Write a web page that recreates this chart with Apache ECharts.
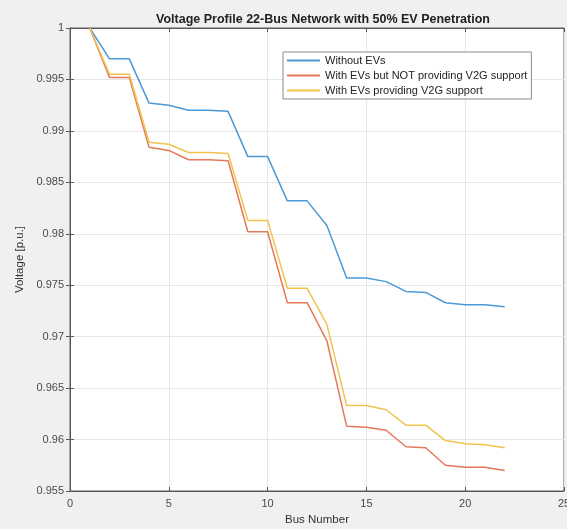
<!DOCTYPE html>
<html>
<head>
<meta charset="utf-8">
<script src="https://cdn.jsdelivr.net/npm/echarts@6/dist/echarts.min.js"></script>
<style>
html,body{margin:0;padding:0;background:#f0f0f0;}
#c{width:567px;height:529px;}
</style>
</head>
<body>
<div id="c"></div>
<script>
const buses = [1,2,3,4,5,6,7,8,9,10,11,12,13,14,15,16,17,18,19,20,21,22];
const withoutEV = [1.0,0.997,0.997,0.9927,0.9925,0.9920,0.9920,0.9919,0.9875,0.9875,0.9832,0.9832,0.9808,0.9757,0.9757,0.97535,0.9744,0.9743,0.9733,0.9731,0.9731,0.9729];
const evNoV2G = [1.0,0.9952,0.9952,0.9884,0.9881,0.9872,0.9872,0.9871,0.9802,0.9802,0.9733,0.9733,0.9696,0.9613,0.9612,0.9609,0.9593,0.9592,0.9575,0.9573,0.9573,0.9570];
const evV2G = [1.0,0.9955,0.9955,0.9889,0.9887,0.9879,0.9879,0.9878,0.9813,0.9813,0.9747,0.9747,0.9712,0.9633,0.9633,0.9629,0.9614,0.9614,0.9599,0.9596,0.9595,0.9592];
const seriesNames = ['Without EVs','With EVs but NOT providing V2G support','With EVs providing V2G support'];
const colors = ['#4a9ad8','#e4795a','#f2c24e'];

const pair = arr => buses.map((b,i)=>[b,arr[i]]);
const chart = echarts.init(document.getElementById('c'));
const axisCol = '#5a5a5a';
const font = 'Liberation Sans, Arial, sans-serif';
chart.setOption({
  backgroundColor:'#f0f0f0',
  animation:false,
  title:{text:'Voltage Profile 22-Bus Network with 50% EV Penetration',left:318,textAlign:'center',top:8,
    textStyle:{fontSize:12.5,fontWeight:'bold',color:'#222',fontFamily:font}},
  legend:{orient:'vertical',left:283,top:52,icon:'rect',itemWidth:33,itemHeight:2,itemGap:4,
    padding:[3,4],backgroundColor:'#ffffff',borderColor:'#8a8a8a',borderWidth:1,
    textStyle:{fontSize:11,color:'#222',fontFamily:font},data:seriesNames},
  grid:{left:70,right:3,top:28,bottom:38,outerBoundsMode:'none',show:true,backgroundColor:'#ffffff',borderColor:axisCol,borderWidth:1},
  xAxis:[{type:'value',min:0,max:25,interval:5,name:'Bus Number',nameLocation:'middle',nameGap:23,
    nameTextStyle:{fontSize:11.5,color:'#333',fontFamily:font},
    axisLine:{lineStyle:{color:axisCol}},axisTick:{inside:true,length:4,lineStyle:{color:axisCol}},
    axisLabel:{fontSize:11,color:'#4a4a4a',margin:7,fontFamily:font},
    splitLine:{show:true,lineStyle:{color:'#e6e6e6'}}},
    {type:'value',min:0,max:25,interval:5,position:'top',axisLine:{show:true,lineStyle:{color:axisCol}},
    axisTick:{inside:true,length:4,lineStyle:{color:axisCol}},axisLabel:{show:false},splitLine:{show:false}}],
  yAxis:[{type:'value',min:0.955,max:1,interval:0.005,name:'Voltage [p.u.]',nameLocation:'middle',nameGap:38,
    nameTextStyle:{fontSize:11.5,color:'#333',fontFamily:font},
    axisLine:{show:true,lineStyle:{color:axisCol}},axisTick:{show:true,inside:true,length:4,lineStyle:{color:axisCol}},
    axisLabel:{fontSize:11,color:'#4a4a4a',margin:6,fontFamily:font,formatter:v=>String(parseFloat(v.toFixed(3)))},
    splitLine:{show:true,lineStyle:{color:'#e6e6e6'}}},
    {type:'value',min:0.955,max:1,interval:0.005,position:'right',axisLine:{show:true,lineStyle:{color:axisCol}},
    axisTick:{show:true,inside:true,length:4,lineStyle:{color:axisCol}},axisLabel:{show:false},splitLine:{show:false}}],
  series:[
    {name:seriesNames[0],type:'line',data:pair(withoutEV),showSymbol:false,lineStyle:{width:1.5,color:colors[0]},itemStyle:{color:colors[0]}},
    {name:seriesNames[1],type:'line',data:pair(evNoV2G),showSymbol:false,lineStyle:{width:1.5,color:colors[1]},itemStyle:{color:colors[1]}},
    {name:seriesNames[2],type:'line',data:pair(evV2G),showSymbol:false,lineStyle:{width:1.5,color:colors[2]},itemStyle:{color:colors[2]}}
  ]
});
</script>
</body>
</html>
